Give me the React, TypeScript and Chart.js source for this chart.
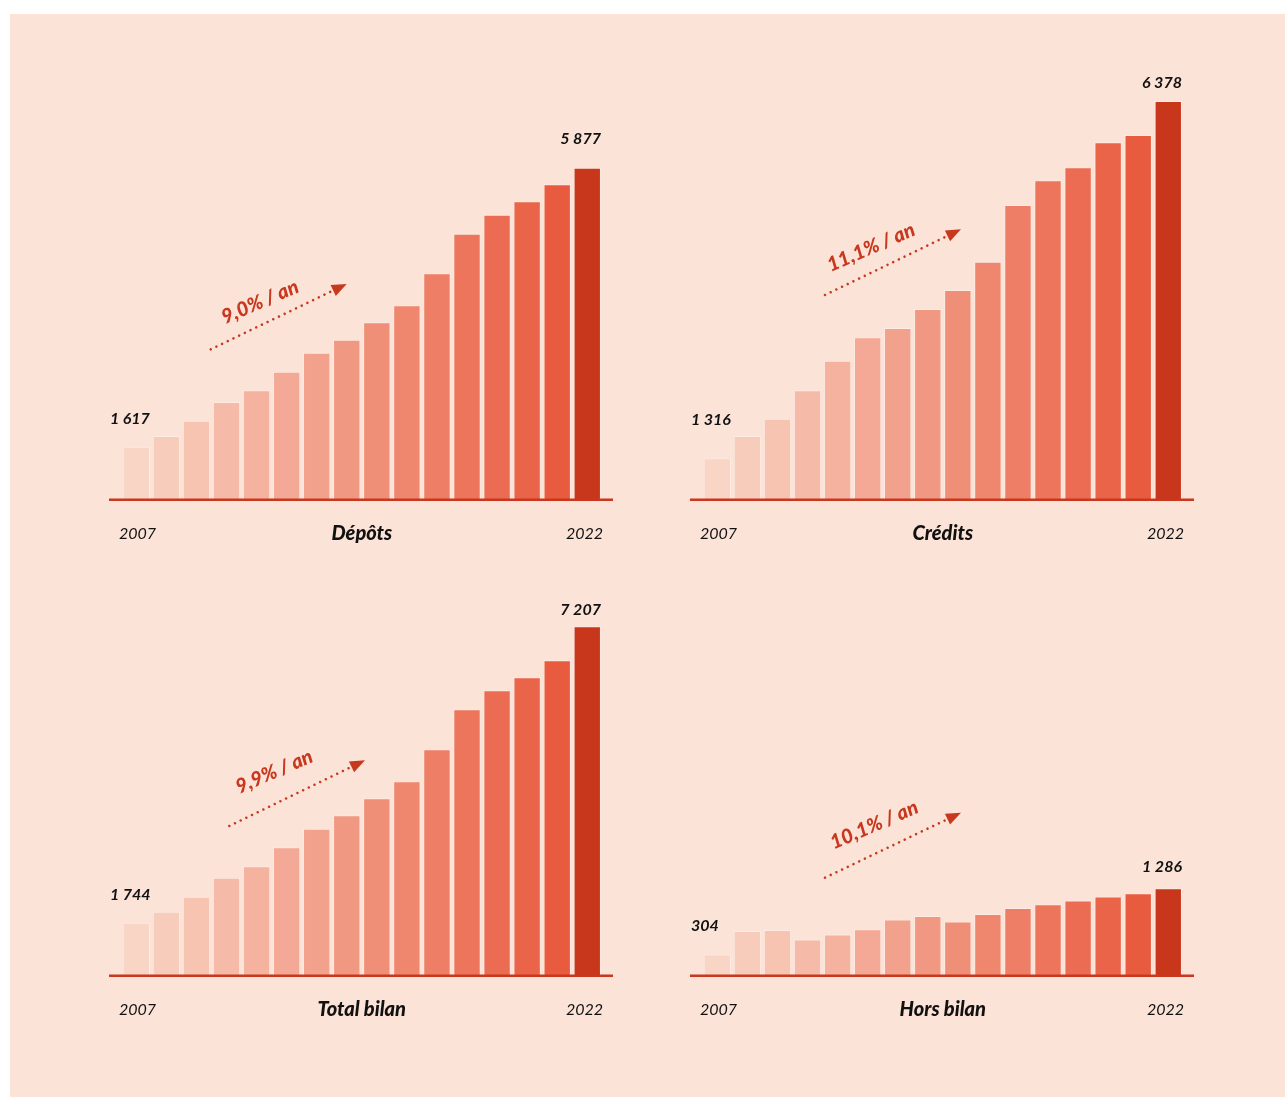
import React, { useEffect, useRef } from "react";
import { Chart, registerables } from "chart.js";

Chart.register(...registerables);

// ---- data (milliards) ----
const years = ["2007", "2008", "2009", "2010", "2011", "2012", "2013", "2014", "2015", "2016", "2017", "2018", "2019", "2020", "2021", "2022"];
const depots = [1617, 1780, 2014, 2299, 2478, 2762, 3052, 3250, 3516, 3776, 4264, 4869, 5159, 5364, 5623, 5877];
const credits = [1316, 1632, 1877, 2279, 2698, 3030, 3162, 3431, 3700, 4101, 4904, 5254, 5438, 5792, 5896, 6378];
const totalBilan = [1744, 1947, 2223, 2573, 2783, 3134, 3476, 3723, 4037, 4350, 4940, 5677, 6027, 6267, 6580, 7207];
const horsBilan = [304, 652, 667, 524, 599, 677, 821, 874, 791, 904, 993, 1047, 1102, 1161, 1210, 1286];
const panelTitles = ["Dépôts", "Crédits", "Total bilan", "Hors bilan"];
const growthRates = ["9,0% / an", "11,1% / an", "9,9% / an", "10,1% / an"];

const series = [depots, credits, totalBilan, horsBilan];

// ---- styles ----
const BG = "#fce3d8";
const RED = "#c8381e";
const INK = "#111111";
const FONT = "Lato, 'Noto Sans', 'DejaVu Sans', sans-serif";

type Vec = [number, number];
interface PanelLayout {
  box: { x: number; y: number; w: number; h: number };
  area: { left: number; top: number; right: number; bottom: number };
  yMin: number;
  yMax: number;
  firstLift: number;
  lastLift: number;
  arrowFrom: Vec;
  arrowTo: Vec;
  labelAt: Vec;
}

// page-space placement of each small multiple; offsets are relative to plot left/bottom
const PANELS: PanelLayout[] = [
  {
    box: { x: 55, y: 30, w: 580, h: 530 },
    area: { left: 121.3, top: 79, right: 602.3, bottom: 499 },
    yMin: 818, yMax: 7231, firstLift: 23, lastLift: 24,
    arrowFrom: [89.4, -149.7], arrowTo: [225.4, -215], labelAt: [138.7, -197],
  },
  {
    box: { x: 636, y: 30, w: 580, h: 530 },
    area: { left: 702.3, top: 79, right: 1183.3, bottom: 499 },
    yMin: 739, yMax: 6689, firstLift: 33, lastLift: 13,
    arrowFrom: [122.7, -204], arrowTo: [258.7, -269.7], labelAt: [168.7, -251.5],
  },
  {
    box: { x: 55, y: 506, w: 580, h: 530 },
    area: { left: 121.3, top: 555, right: 602.3, bottom: 975 },
    yMin: 780, yMax: 8521, firstLift: 23, lastLift: 11,
    arrowFrom: [108, -149], arrowTo: [243.7, -214.7], labelAt: [152.9, -203.3],
  },
  {
    box: { x: 636, y: 506, w: 580, h: 530 },
    area: { left: 702.3, top: 555, right: 1183.3, bottom: 975 },
    yMin: 0, yMax: 6220, firstLift: 23, lastLift: 16,
    arrowFrom: [122.7, -97.3], arrowTo: [258.7, -162.3], labelAt: [171.9, -150],
  },
];

const LIGHT = [249, 213, 197];
const DEEP = [233, 91, 63];
const LAST = "#c8361c";

function barColors(n: number): string[] {
  const out: string[] = [];
  for (let i = 0; i < n - 1; i++) {
    const t = n > 2 ? i / (n - 2) : 0;
    const c = LIGHT.map((a, k) => Math.round(a + (DEEP[k] - a) * t));
    out.push(`rgb(${c[0]},${c[1]},${c[2]})`);
  }
  out.push(LAST);
  return out;
}

const fmt = (v: number) => String(v).replace(/\B(?=(\d{3})+(?!\d))/g, " ");

function decorPlugin(index: number) {
  const L = PANELS[index];
  return {
    id: "panelDecor",
    afterDatasetsDraw(chart: Chart) {
      const ctx = chart.ctx;
      const a = chart.chartArea;
      const bars = chart.getDatasetMeta(0).data as any[];
      const values = series[index];
      ctx.save();

      // baseline
      ctx.strokeStyle = RED;
      ctx.lineWidth = 2.5;
      ctx.beginPath();
      ctx.moveTo(a.left - 12.3, a.bottom + 0.8);
      ctx.lineTo(a.right + 10.7, a.bottom + 0.8);
      ctx.stroke();

      // first / last values
      ctx.fillStyle = INK;
      ctx.textBaseline = "alphabetic";
      ctx.font = `italic 700 16px ${FONT}`;
      const first = bars[0];
      const last = bars[bars.length - 1];
      ctx.textAlign = "left";
      ctx.fillText(fmt(values[0]), a.left - 11.3, first.y - L.firstLift);
      ctx.textAlign = "right";
      ctx.fillText(fmt(values[values.length - 1]), last.x + last.width / 2, last.y - L.lastLift);

      // years
      ctx.font = `italic 400 16px ${FONT}`;
      ctx.textAlign = "left";
      ctx.fillText(years[0], a.left - 2.3, a.bottom + 40.3);
      ctx.textAlign = "right";
      ctx.fillText(years[years.length - 1], a.right + 0.7, a.bottom + 40.3);

      // title
      ctx.font = `italic 900 20px ${FONT}`;
      ctx.textAlign = "center";
      ctx.fillText(panelTitles[index], (a.left + a.right) / 2, a.bottom + 40.5);

      // growth arrow
      const x0 = a.left + L.arrowFrom[0];
      const y0 = a.bottom + L.arrowFrom[1];
      const x1 = a.left + L.arrowTo[0];
      const y1 = a.bottom + L.arrowTo[1];
      const ang = Math.atan2(y1 - y0, x1 - x0);
      const headLen = 15;
      const headHalf = 6;
      const bx = x1 - Math.cos(ang) * headLen;
      const by = y1 - Math.sin(ang) * headLen;
      ctx.strokeStyle = RED;
      ctx.lineWidth = 2.6;
      ctx.lineCap = "round";
      ctx.setLineDash([0.01, 6.3]);
      ctx.beginPath();
      ctx.moveTo(x0, y0);
      ctx.lineTo(bx - Math.cos(ang) * 2, by - Math.sin(ang) * 2);
      ctx.stroke();
      ctx.setLineDash([]);
      ctx.fillStyle = RED;
      ctx.beginPath();
      ctx.moveTo(x1, y1);
      ctx.lineTo(bx + Math.sin(ang) * headHalf, by - Math.cos(ang) * headHalf);
      ctx.lineTo(bx - Math.sin(ang) * headHalf, by + Math.cos(ang) * headHalf);
      ctx.closePath();
      ctx.fill();

      // growth label
      ctx.translate(a.left + L.labelAt[0], a.bottom + L.labelAt[1]);
      ctx.rotate((-23.5 * Math.PI) / 180);
      ctx.font = `italic 900 20px ${FONT}`;
      ctx.textAlign = "center";
      ctx.textBaseline = "middle";
      ctx.fillText(growthRates[index], 0, 0);

      ctx.restore();
    },
  };
}

function BarPanel({ index }: { index: number }) {
  const ref = useRef<HTMLCanvasElement>(null);
  const L = PANELS[index];

  useEffect(() => {
    const canvas = ref.current;
    if (!canvas) return;
    const values = series[index];
    const chart = new Chart(canvas, {
      type: "bar",
      data: {
        labels: years,
        datasets: [
          {
            data: values,
            backgroundColor: barColors(values.length),
            borderColor: "rgba(255,255,255,0.3)",
            borderWidth: { top: 1, left: 1, right: 1, bottom: 0 },
            borderSkipped: false,
            barPercentage: 0.91,
            categoryPercentage: 1,
          },
        ],
      },
      options: {
        responsive: false,
        animation: false,
        devicePixelRatio: 1,
        layout: {
          padding: {
            left: L.area.left - L.box.x,
            top: L.area.top - L.box.y,
            right: L.box.x + L.box.w - L.area.right,
            bottom: L.box.y + L.box.h - L.area.bottom,
          },
        },
        scales: {
          x: { display: false, grid: { display: false } },
          y: { display: false, min: L.yMin, max: L.yMax, grid: { display: false } },
        },
        plugins: {
          legend: { display: false },
          tooltip: { enabled: false },
        },
      },
      plugins: [decorPlugin(index)],
    });
    return () => chart.destroy();
  }, [index]);

  return (
    <canvas
      ref={ref}
      width={L.box.w}
      height={L.box.h}
      style={{ position: "absolute", left: L.box.x, top: L.box.y, width: L.box.w, height: L.box.h }}
    />
  );
}

export default function App() {
  return (
    <div style={{ position: "absolute", left: 0, top: 0, width: 1285, height: 1097, overflow: "hidden", background: "#ffffff" }}>
      <div style={{ position: "absolute", left: 10, top: 14, width: 1275, height: 1083, background: BG }} />
      {PANELS.map((_, i) => (
        <BarPanel key={i} index={i} />
      ))}
    </div>
  );
}
